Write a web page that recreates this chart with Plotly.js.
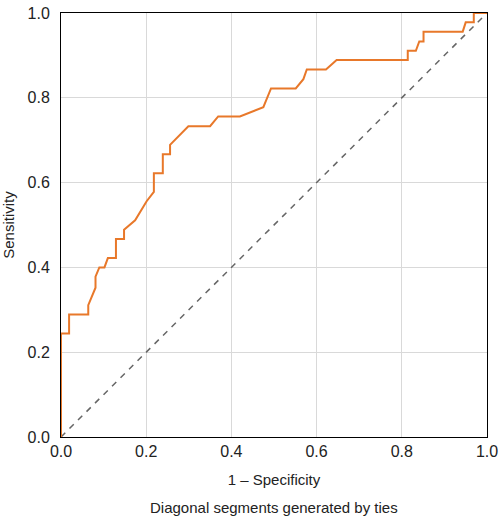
<!DOCTYPE html>
<html><head><meta charset="utf-8">
<script src="https://cdn.plot.ly/plotly-3.0.1.min.js"></script>
<style>body{margin:0;background:#fff}#c{width:502px;height:516px}</style>
</head><body><div id="c"></div>
<script>
const fpr = [0,0,0.019,0.019,0.064,0.064,0.081,0.081,0.090,0.102,0.110,0.129,0.129,0.148,0.148,0.174,0.201,0.218,0.218,0.239,0.239,0.256,0.256,0.299,0.350,0.369,0.420,0.475,0.493,0.551,0.569,0.577,0.622,0.647,0.814,0.814,0.833,0.841,0.851,0.851,0.943,0.950,0.969,0.969,1.0];
const tpr = [0,0.244,0.244,0.289,0.289,0.311,0.352,0.378,0.400,0.400,0.422,0.422,0.467,0.467,0.489,0.511,0.556,0.578,0.622,0.622,0.667,0.667,0.689,0.733,0.733,0.756,0.756,0.778,0.822,0.822,0.844,0.867,0.867,0.889,0.889,0.911,0.911,0.933,0.933,0.956,0.956,0.978,0.978,1.0,1.0];
const refX = [0,1];
const refY = [0,1];
const tickVals = [0,0.2,0.4,0.6,0.8,1.0];
const tickText = ["0.0","0.2","0.4","0.6","0.8","1.0"];
const F = "Liberation Sans, Arial, sans-serif";
const axis = {range:[0,1], tickvals:tickVals, ticktext:tickText, showgrid:true, gridcolor:"#d9d9d9", gridwidth:1,
  zeroline:false, showline:true, linecolor:"#000", linewidth:1, mirror:true, ticks:"", tickfont:{family:F,size:16,color:"#222"}};
Plotly.newPlot("c",[
 {x:refX,y:refY,mode:"lines",line:{color:"#666",width:1.5,dash:"6px,6px"},hoverinfo:"skip"},
 {x:fpr,y:tpr,mode:"lines",line:{color:"#E8782A",width:2}}
],{
 width:502,height:516,showlegend:false,paper_bgcolor:"#fff",plot_bgcolor:"#fff",
 margin:{l:61,r:15,t:13,b:79},
 xaxis:Object.assign({},axis,{title:{text:"1 – Specificity",font:{family:F,size:15,color:"#222"},standoff:15}}),
 yaxis:Object.assign({},axis,{ticklabelstandoff:7,title:{text:"Sensitivity",font:{family:F,size:15,color:"#222"},standoff:9}}),
 annotations:[{text:"Diagonal segments generated by ties",xref:"paper",yref:"paper",x:0.5,y:0,yshift:-70,yanchor:"middle",showarrow:false,font:{family:F,size:15,color:"#222"}}]
},{staticPlot:true});
</script></body></html>
